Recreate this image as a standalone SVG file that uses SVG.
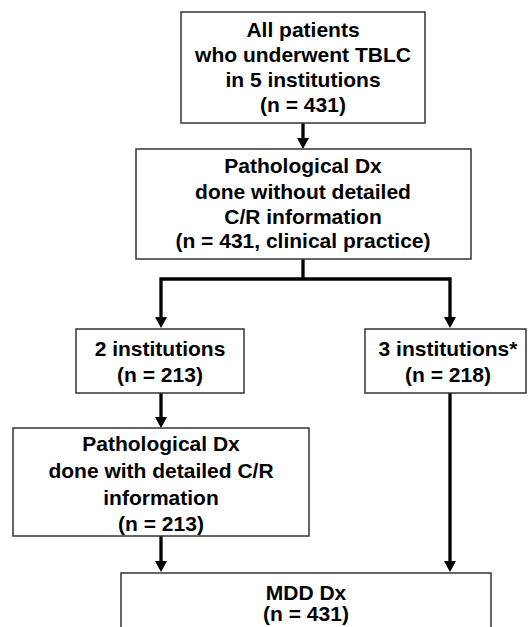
<svg xmlns="http://www.w3.org/2000/svg" width="528" height="627" viewBox="0 0 528 627">
<style>
.box{fill:#fff;stroke:#333;stroke-width:1.5}
.t{font-family:"Liberation Sans",Arial,sans-serif;font-weight:bold;font-size:21px;fill:#000;text-anchor:middle}
.c{fill:none;stroke:#000;stroke-width:3.3;stroke-linejoin:miter}
</style>
<defs>
<marker id="ah" markerUnits="userSpaceOnUse" markerWidth="11" markerHeight="12" refX="0" refY="6" orient="auto">
<path d="M0,0 L11,6 L0,12 z" fill="#000"/>
</marker>
</defs>
<rect width="528" height="627" fill="#fff"/>
<g id="connectors">
<path class="c" d="M303,123 V138" marker-end="url(#ah)"/>
<path class="c" d="M303,259 V279"/>
<path class="c" d="M303,279 H161 V317" marker-end="url(#ah)"/>
<path class="c" d="M303,279 H450 V317" marker-end="url(#ah)"/>
<path class="c" d="M161,393 V417" marker-end="url(#ah)"/>
<path class="c" d="M161,536 V561" marker-end="url(#ah)"/>
<path class="c" d="M450,393 V561" marker-end="url(#ah)"/>
</g>
<g id="n1">
<rect class="box" x="181" y="12" width="244" height="111"/>
<text class="t" x="303" y="37">All patients</text>
<text class="t" x="303" y="62">who underwent TBLC</text>
<text class="t" x="303" y="87">in 5 institutions</text>
<text class="t" x="303" y="112">(n = 431)</text>
</g>
<g id="n2">
<rect class="box" x="136" y="149" width="335" height="110"/>
<text class="t" x="303" y="173">Pathological Dx</text>
<text class="t" x="303" y="199">done without detailed</text>
<text class="t" x="303" y="224">C/R information</text>
<text class="t" x="303" y="248">(n = 431, clinical practice)</text>
</g>
<g id="n3">
<rect class="box" x="76" y="329" width="168" height="64"/>
<text class="t" x="160" y="356">2 institutions</text>
<text class="t" x="160" y="382">(n = 213)</text>
</g>
<g id="n4">
<rect class="box" x="365" y="329" width="161" height="64"/>
<text class="t" x="448" y="356">3 institutions*</text>
<text class="t" x="448" y="382">(n = 218)</text>
</g>
<g id="n5">
<rect class="box" x="13" y="428" width="296" height="108"/>
<text class="t" x="161" y="451">Pathological Dx</text>
<text class="t" x="161" y="478">done with detailed C/R</text>
<text class="t" x="161" y="505">information</text>
<text class="t" x="161" y="531">(n = 213)</text>
</g>
<g id="n6">
<rect class="box" x="121" y="573" width="370" height="80"/>
<text class="t" x="306" y="600">MDD Dx</text>
<text class="t" x="306" y="621">(n = 431)</text>
</g>
</svg>
